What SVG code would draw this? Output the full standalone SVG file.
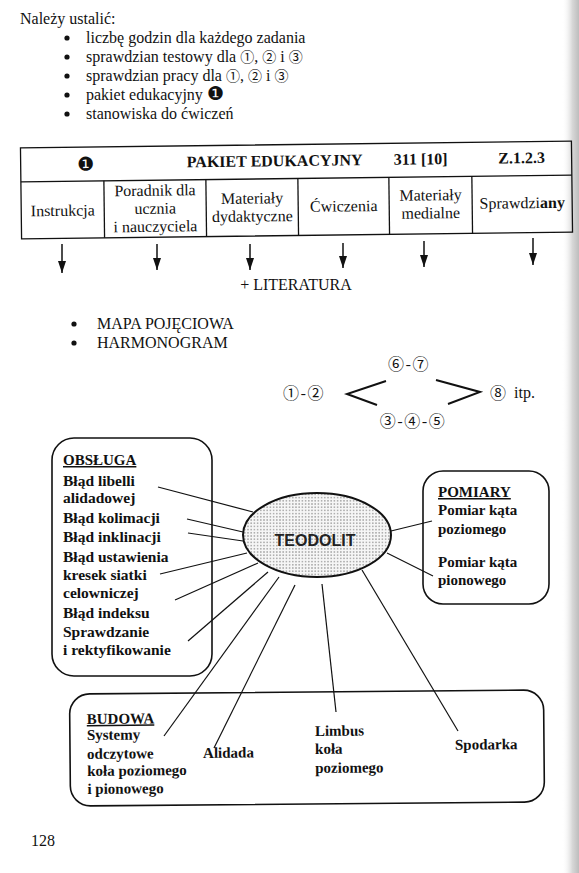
<svg xmlns="http://www.w3.org/2000/svg" width="579" height="873" viewBox="0 0 579 873">
<defs>
<style>
.t{font-family:"Liberation Serif","DejaVu Serif","Noto Sans CJK JP",serif;font-size:16px;fill:#111}
.b{font-family:"Liberation Serif","DejaVu Serif",serif;font-weight:bold;fill:#111}
.c{font-family:"Noto Sans CJK JP","DejaVu Sans",sans-serif;fill:#111}
.d{font-family:"DejaVu Sans","Noto Sans CJK JP",sans-serif;fill:#111}
.m{text-anchor:middle}
.box{fill:none;stroke:#111;stroke-width:1.6}
.ln{fill:none;stroke:#111;stroke-width:1.2}
.grid{fill:none;stroke:#111;stroke-width:1.3}
.arr{stroke:#111;stroke-width:1.5;fill:none}
.u{text-decoration:underline}
</style>
<marker id="ad" markerWidth="8" markerHeight="12" refX="4" refY="12" markerUnits="userSpaceOnUse" viewBox="0 0 8 12">
<path d="M0,0 L8,0 L4,12 Z" fill="#111"/>
</marker>
<pattern id="dots" width="3.2" height="3.2" patternUnits="userSpaceOnUse">
<rect width="3.2" height="3.2" fill="#f6f6f6"/>
<rect x="1" y="1" width="1.2" height="1.2" fill="#7a7a7a"/>
</pattern>
<linearGradient id="edge" x1="0" y1="0" x2="1" y2="0">
<stop offset="0" stop-color="#ffffff" stop-opacity="0"/>
<stop offset="0.6" stop-color="#d8d8d8"/>
<stop offset="1" stop-color="#bdbdbd"/>
</linearGradient>
</defs>
<rect width="579" height="873" fill="#fff"/>
<rect x="562" y="0" width="17" height="873" fill="url(#edge)"/>

<g id="intro">
<text class="t" x="20" y="24">Należy ustalić:</text>
<circle cx="67" cy="38" r="2.6" fill="#111"/>
<text class="t" x="86" y="43">liczbę godzin dla każdego zadania</text>
<circle cx="67" cy="57" r="2.6" fill="#111"/>
<text class="t" x="86" y="62">sprawdzian testowy dla <tspan class="c" font-size="14">①</tspan>, <tspan class="c" font-size="14">②</tspan> i <tspan class="c" font-size="14">③</tspan></text>
<circle cx="67" cy="76" r="2.6" fill="#111"/>
<text class="t" x="86" y="81">sprawdzian pracy dla <tspan class="c" font-size="14">①</tspan>, <tspan class="c" font-size="14">②</tspan> i <tspan class="c" font-size="14">③</tspan></text>
<circle cx="67" cy="95" r="2.6" fill="#111"/>
<text class="t" x="86" y="100">pakiet edukacyjny <tspan class="d" font-size="19">❶</tspan></text>
<circle cx="67" cy="114" r="2.6" fill="#111"/>
<text class="t" x="86" y="119">stanowiska do ćwiczeń</text>
</g>

<g id="table" transform="rotate(-0.7 296 190)">
<rect class="grid" x="21" y="144.5" width="551" height="91"/>
<line class="grid" x1="21" y1="178.5" x2="572" y2="178.5"/>
<line class="grid" x1="104" y1="178.5" x2="104" y2="235.5"/>
<line class="grid" x1="206" y1="178.5" x2="206" y2="235.5"/>
<line class="grid" x1="298" y1="178.5" x2="298" y2="235.5"/>
<line class="grid" x1="389" y1="178.5" x2="389" y2="235.5"/>
<line class="grid" x1="472" y1="178.5" x2="472" y2="235.5"/>
<text class="d m" x="86" y="168" font-size="19">❶</text>
<text class="b m" x="275" y="166" font-size="16">PAKIET EDUKACYJNY</text>
<text class="b m" x="421" y="166" font-size="16">311 [10]</text>
<text class="b m" x="522" y="166" font-size="16">Z.1.2.3</text>
<text class="t m" x="62.5" y="213">Instrukcja</text>
<text class="t m" x="155" y="194">Poradnik dla</text>
<text class="t m" x="155" y="212">ucznia</text>
<text class="t m" x="155" y="230">i nauczyciela</text>
<text class="t m" x="252" y="203">Materiały</text>
<text class="t m" x="252" y="221">dydaktyczne</text>
<text class="t m" x="343.5" y="212">Ćwiczenia</text>
<text class="t m" x="430.5" y="202">Materiały</text>
<text class="t m" x="430.5" y="220">medialne</text>
<text class="t m" x="522" y="211">Sprawdzi<tspan font-weight="bold">any</tspan></text>
</g>

<g id="arrows">
<line class="arr" x1="62" y1="244" x2="62" y2="273" marker-end="url(#ad)"/>
<line class="arr" x1="157" y1="244" x2="157" y2="270" marker-end="url(#ad)"/>
<line class="arr" x1="250" y1="244" x2="250" y2="270" marker-end="url(#ad)"/>
<line class="arr" x1="343" y1="243" x2="343" y2="268" marker-end="url(#ad)"/>
<line class="arr" x1="424" y1="241" x2="424" y2="267" marker-end="url(#ad)"/>
<line class="arr" x1="533" y1="238" x2="533" y2="265" marker-end="url(#ad)"/>
</g>
<text id="literatura" class="t m" x="296" y="290">+ LITERATURA</text>

<g id="lists2">
<circle cx="74" cy="324" r="2.6" fill="#111"/>
<text class="t" x="97" y="329">MAPA POJĘCIOWA</text>
<circle cx="74" cy="343" r="2.6" fill="#111"/>
<text class="t" x="97" y="348">HARMONOGRAM</text>
</g>

<g id="harmonogram">
<text class="c m" x="409" y="370" font-size="16" letter-spacing="1.5">⑥-⑦</text>
<text class="c m" x="304" y="399" font-size="16" letter-spacing="1.5">①-②</text>
<text class="c m" x="413" y="427" font-size="16" letter-spacing="1.5">③-④-⑤</text>
<text class="c m" x="498" y="399" font-size="16">⑧</text>
<text class="t" x="514" y="398">itp.</text>
<polyline points="386,381 347,394 377,405" fill="none" stroke="#111" stroke-width="2"/>
<polyline points="436,380 480,392 448,404" fill="none" stroke="#111" stroke-width="2"/>
</g>

<g id="connectors">
<line class="ln" x1="158" y1="487" x2="253" y2="512"/>
<line class="ln" x1="187" y1="519" x2="243" y2="532"/>
<line class="ln" x1="188" y1="533" x2="243" y2="541"/>
<line class="ln" x1="160" y1="574" x2="247" y2="553"/>
<line class="ln" x1="175" y1="600" x2="258" y2="563"/>
<line class="ln" x1="188" y1="641" x2="268" y2="572"/>
<line class="ln" x1="279" y1="577" x2="164" y2="736"/>
<line class="ln" x1="295" y1="585" x2="214" y2="748"/>
<line class="ln" x1="322" y1="584" x2="336" y2="712"/>
<line class="ln" x1="362" y1="570" x2="458" y2="731"/>
<line class="ln" x1="391" y1="531" x2="432" y2="521"/>
<line class="ln" x1="387" y1="553" x2="433" y2="576"/>
</g>

<g id="teodolit">
<ellipse cx="317" cy="535" rx="74" ry="42" fill="url(#dots)" stroke="#111" stroke-width="2"/>
<text x="315" y="546" text-anchor="middle" font-family="Liberation Sans, Arial, sans-serif" font-weight="bold" font-size="16" fill="#222">TEODOLIT</text>
</g>

<g id="obsluga">
<rect class="box" x="52" y="438" width="160" height="238" rx="22"/>
<text class="b u" x="63" y="465" font-size="15">OBSŁUGA</text>
<text class="b" x="63" y="486" font-size="15.5">Błąd libelli</text>
<text class="b" x="63" y="503" font-size="15.5">alidadowej</text>
<text class="b" x="63" y="523" font-size="15.5">Błąd kolimacji</text>
<text class="b" x="63" y="542" font-size="15.5">Błąd inklinacji</text>
<text class="b" x="63" y="562" font-size="15.5">Błąd ustawienia</text>
<text class="b" x="63" y="580" font-size="15.5">kresek siatki</text>
<text class="b" x="63" y="598" font-size="15.5">celowniczej</text>
<text class="b" x="63" y="618" font-size="15.5">Błąd indeksu</text>
<text class="b" x="63" y="637" font-size="15.5">Sprawdzanie</text>
<text class="b" x="63" y="655" font-size="15.5">i rektyfikowanie</text>
</g>

<g id="pomiary">
<rect class="box" x="423" y="471" width="126" height="133" rx="20"/>
<text class="b u" x="438" y="497" font-size="15">POMIARY</text>
<text class="b" x="438" y="515" font-size="15">Pomiar kąta</text>
<text class="b" x="438" y="534" font-size="15">poziomego</text>
<text class="b" x="438" y="567" font-size="15">Pomiar kąta</text>
<text class="b" x="438" y="585" font-size="15">pionowego</text>
</g>

<g id="budowa" transform="rotate(-0.5 307 748)">
<rect class="box" x="70" y="692" width="474" height="112" rx="20"/>
<text class="b u" x="87" y="722" font-size="15">BUDOWA</text>
<text class="b" x="87" y="738" font-size="15">Systemy</text>
<text class="b" x="87" y="757" font-size="15">odczytowe</text>
<text class="b" x="87" y="774" font-size="15">koła poziomego</text>
<text class="b" x="87" y="792" font-size="15">i pionowego</text>
<text class="b" x="203" y="757" font-size="15">Alidada</text>
<text class="b" x="315" y="736" font-size="15">Limbus</text>
<text class="b" x="315" y="754" font-size="15">koła</text>
<text class="b" x="315" y="773" font-size="15">poziomego</text>
<text class="b" x="455" y="751" font-size="15">Spodarka</text>
</g>

<text id="page" class="t" x="31" y="846">128</text>
</svg>
